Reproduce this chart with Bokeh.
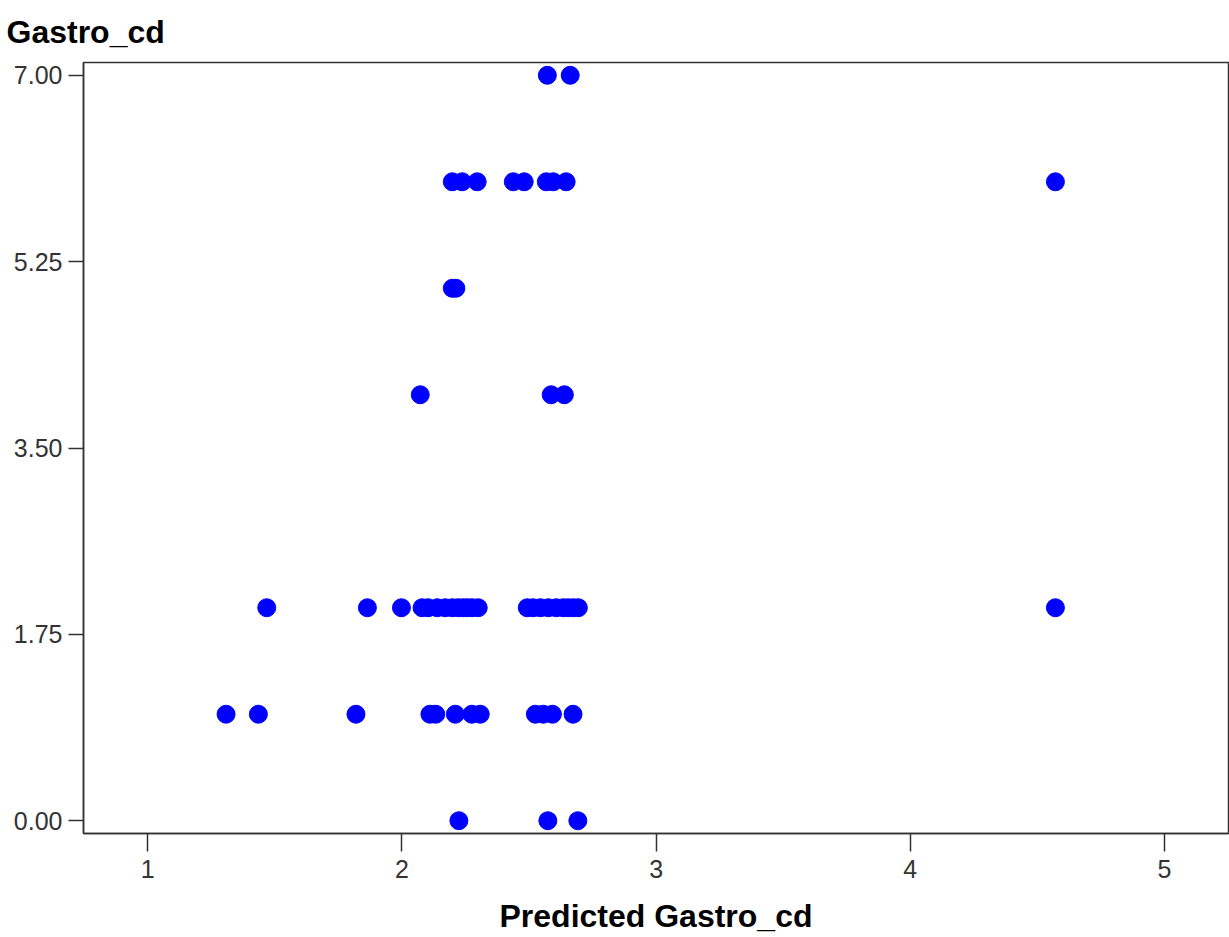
from bokeh.plotting import figure
from bokeh.models import FixedTicker
from bokeh.embed import file_html
from bokeh.resources import INLINE

# Predicted vs observed Gastro_cd, one list of predicted values per observed level
obs_levels = [0, 1, 2, 4, 5, 6, 7]
pred_at_0 = [2.224, 2.574, 2.692]
pred_at_1 = [1.308, 1.435, 1.819, 2.110, 2.133, 2.210, 2.275, 2.308,
             2.525, 2.556, 2.592, 2.673]
pred_at_2 = [1.468, 1.864, 1.998, 2.079, 2.103, 2.139, 2.170, 2.198, 2.221,
             2.241, 2.257, 2.276, 2.300, 2.493, 2.516, 2.545, 2.576, 2.607,
             2.635, 2.654, 2.674, 2.694, 4.571]
pred_at_4 = [2.072, 2.587, 2.639]
pred_at_5 = [2.198, 2.212]
pred_at_6 = [2.198, 2.237, 2.296, 2.438, 2.481, 2.568, 2.595, 2.646, 4.571]
pred_at_7 = [2.572, 2.662]

x_ticks = [1, 2, 3, 4, 5]
x_tick_labels = ["1", "2", "3", "4", "5"]
y_ticks = [0, 1.75, 3.5, 5.25, 7]
y_tick_labels = ["0.00", "1.75", "3.50", "5.25", "7.00"]

groups = [pred_at_0, pred_at_1, pred_at_2, pred_at_4, pred_at_5, pred_at_6, pred_at_7]
xs, ys = [], []
for level, preds in zip(obs_levels, groups):
    xs.extend(preds)
    ys.extend([level] * len(preds))

p = figure(width=1229, height=937, x_range=(0.747, 5.252), y_range=(-0.12, 7.12),
           output_backend="svg", toolbar_location=None,
           min_border_left=83, min_border_right=1, min_border_top=62,
           min_border_bottom=104, title="Gastro_cd")

p.title.text_font = "Liberation Sans"
p.title.text_font_size = "32px"
p.title.text_font_style = "bold"
p.title.text_color = "black"
p.title.align = "left"
p.title.offset = -77
p.title.standoff = 22
p.title.vertical_align = "top"

p.scatter(xs, ys, size=18, fill_color="#0000FF", line_color="#0000FF", line_width=1)

p.xgrid.visible = False
p.ygrid.visible = False
p.background_fill_color = "white"
p.border_fill_color = "white"
p.outline_line_color = "#333333"
p.outline_line_width = 1.5

p.xaxis.ticker = FixedTicker(ticks=x_ticks)
p.xaxis.major_label_overrides = dict(zip(x_ticks, x_tick_labels))
p.yaxis.ticker = FixedTicker(ticks=y_ticks)
p.yaxis.major_label_overrides = dict(zip(y_ticks, y_tick_labels))

for ax in (p.xaxis, p.yaxis):
    ax.axis_line_color = "#333333"
    ax.axis_line_width = 1.5
    ax.major_tick_line_color = "#333333"
    ax.major_tick_line_width = 1.5
    ax.major_tick_in = 0
    ax.minor_tick_line_color = None
    ax.major_label_text_font = "Liberation Sans"
    ax.major_label_text_font_size = "25px"
    ax.major_label_text_color = "#333333"

p.xaxis.major_tick_out = 18
p.yaxis.major_tick_out = 15
p.xaxis.major_label_standoff = 8
p.yaxis.major_label_standoff = 6

p.xaxis.axis_label = "Predicted Gastro_cd"
p.xaxis.axis_label_text_font = "Liberation Sans"
p.xaxis.axis_label_text_font_size = "32px"
p.xaxis.axis_label_text_font_style = "bold"
p.xaxis.axis_label_text_color = "black"
p.xaxis.axis_label_standoff = 17

open("out.html", "w").write(file_html(p, INLINE))
